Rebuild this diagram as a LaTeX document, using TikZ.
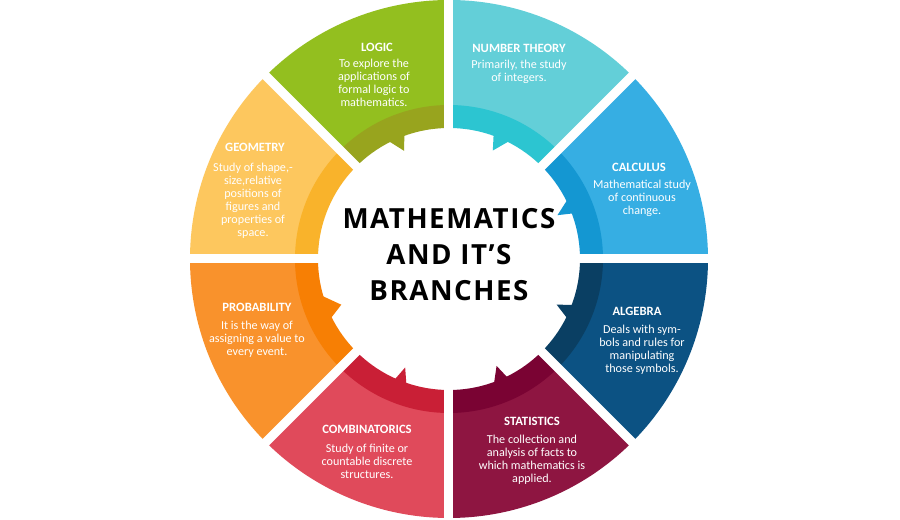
\documentclass[tikz,border=0pt]{standalone}
\usepackage{fontspec}
\setmainfont{Carlito}
\newfontfamily\titlefont[LetterSpace=5.5]{Open Sans}
\definecolor{logicA}{HTML}{93BF1F}\definecolor{logicB}{HTML}{98A41E}
\definecolor{numthA}{HTML}{63CFD8}\definecolor{numthB}{HTML}{2CC5D1}
\definecolor{calcA}{HTML}{36AEE3}\definecolor{calcB}{HTML}{1497D2}
\definecolor{algA}{HTML}{0C5283}\definecolor{algB}{HTML}{0A3F63}
\definecolor{statA}{HTML}{8E1541}\definecolor{statB}{HTML}{7A0333}
\definecolor{combA}{HTML}{E04A5B}\definecolor{combB}{HTML}{C91F36}
\definecolor{probA}{HTML}{F9922C}\definecolor{probB}{HTML}{F77F04}
\definecolor{geomA}{HTML}{FDC75E}\definecolor{geomB}{HTML}{F9B32B}
\begin{document}
\begin{tikzpicture}[x=0.75pt, y=0.75pt,
  head/.style={text=white, inner sep=0pt, font=\bfseries\fontsize{9.5}{10}\selectfont},
  desc/.style={text=white, inner sep=0pt, align=center, font=\fontsize{9.1}{9.75}\selectfont},
  title/.style={inner sep=0pt, align=center, font=\titlefont\bfseries\fontsize{20.8}{27}\selectfont}]
\useasboundingbox[fill=white] (-449,-261) rectangle (451,259);
% ring segments
\foreach \a/\lt/\dk in {0/calcA/calcB, 45/numthA/numthB, 90/logicA/logicB, 135/geomA/geomB,
                        180/probA/probB, 225/combA/combB, 270/statA/statB, 315/algA/algB}{
  \fill[\lt] (\a:153) arc[start angle=\a, end angle=\a+45, radius=153]
    -- (\a+45:259) arc[start angle=\a+45, end angle=\a, radius=259] -- cycle;
  \fill[\dk] (\a:131) arc[start angle=\a, end angle=\a+45, radius=131]
    -- (\a+45:154) arc[start angle=\a+45, end angle=\a, radius=154] -- cycle;
}
% pointers
\foreach \b/\t/\e/\dk in {20/22/27/calcB, 62.5/68/70.5/numthB, 109.5/112.5/117.5/logicB,
                          195.5/203/207/probB, 245.5/248/251.5/combB, 289.5/294/296.5/statB,
                          333/337/340/algB}
  \fill[\dk] (\b:134) -- (\t:117) -- (\e:134) -- cycle;
% gaps
\foreach \a in {0,45,90,135}
  \draw[white, line width=6.75pt] (\a:275) -- (\a+180:275);

\node[title] (main) at (0,4) {MATHEMATICS\\AND IT’S\\BRANCHES};

\node[head] (logic) at (-72,212) {LOGIC};
\node[desc] (logic-txt) at (-75,176) {To explore the\\applications of\\formal logic to\\mathematics.};
\node[head] (numth) at (70,211) {NUMBER THEORY};
\node[desc] (numth-txt) at (70,187.5) {Primarily, the study\\of integers.};
\node[head] (calc) at (190,92) {CALCULUS};
\node[desc] (calc-txt) at (193,61) {Mathematical study\\of continuous\\change.};
\node[head] (alg) at (188,-52) {ALGEBRA};
\node[desc] (alg-txt) at (193,-90.5) {Deals with sym-\\bols and rules for\\manipulating\\those symbols.};
\node[head] (stat) at (83,-162) {STATISTICS};
\node[desc] (stat-txt) at (83,-201) {The collection and\\analysis of facts to\\which mathematics is\\applied.};
\node[head] (comb) at (-82,-170) {COMBINATORICS};
\node[desc] (comb-txt) at (-82,-202) {Study of finite or\\countable discrete\\structures.};
\node[head] (prob) at (-192,-48) {PROBABILITY};
\node[desc] (prob-txt) at (-192,-80) {It is the way of\\assigning a value to\\every event.};
\node[head] (geom) at (-194,112) {GEOMETRY};
\node[desc] (geom-txt) at (-196,58.5) {Study of shape,-\\size,relative\\positions of\\figures and\\properties of\\space.};
\end{tikzpicture}
\end{document}
